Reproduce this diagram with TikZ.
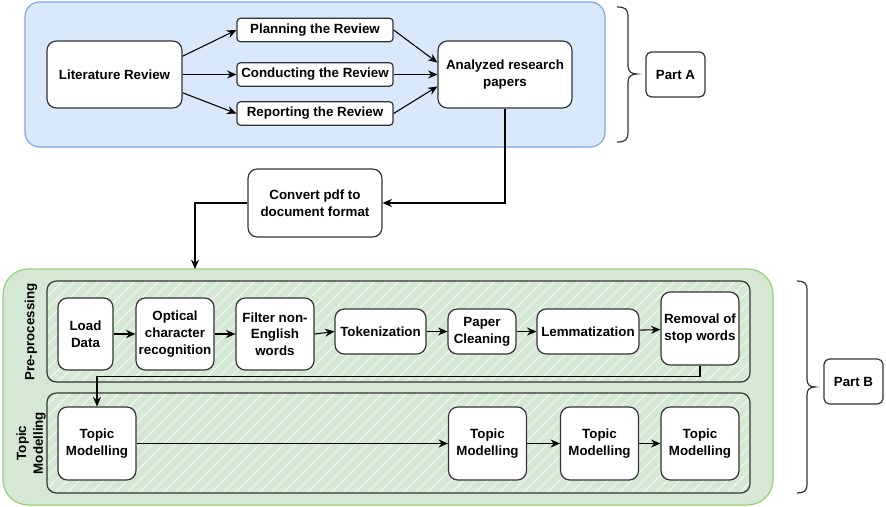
\documentclass[tikz,border=0pt]{standalone}
\usepackage{fontspec}
\setmainfont{Liberation Sans}
\usepackage{xcolor}
\usepackage{tikz}
\usetikzlibrary{arrows.meta, positioning, calc}
\definecolor{boxLine}{HTML}{333333}
\definecolor{blueFill}{HTML}{DAE8FC}
\definecolor{blueLine}{HTML}{7EA6E0}
\definecolor{greenFill}{HTML}{D5E8D4}
\definecolor{greenLine}{HTML}{97D077}
\tikzstyle{block} = [rectangle, rounded corners=7pt, draw=boxLine, line width=0.9pt, fill=white, align=center, inner sep=1pt, font=\fontsize{10}{12.5}\selectfont\bfseries]
\tikzstyle{slim} = [block, rounded corners=2.5pt, minimum width=117pt, minimum height=17.5pt]
\tikzstyle{lane} = [draw=boxLine, line width=0.9pt, rounded corners=7pt]
\tikzstyle{hatch} = [white, line width=0.7pt, opacity=0.75]
\tikzstyle{bracket} = [draw=boxLine, line width=0.9pt]
\tikzstyle{flow} = [line width=0.8pt, draw=black, ->, >={Stealth[length=7pt,width=6pt]}]

\begin{document}
\begin{tikzpicture}[x=0.75pt, y=-0.75pt]
        \useasboundingbox (0,0) rectangle (886,507);

        % Part A container
        \draw[draw=blueLine, fill=blueFill, line width=0.9pt, rounded corners=11pt] (25,2) rectangle (605,147);

        \node (lit) [block, minimum width=101.25pt, minimum height=50.25pt] at (114.5,74.5) {Literature Review};
        \node (plan) [slim] at (315,30) {Planning the Review};
        \node (cond) [slim] at (315,74.5) {Conducting the Review};
        \node (rep) [slim] at (315,113.5) {Reporting the Review};
        \node (papers) [block, minimum width=100.5pt, minimum height=50.25pt] at (505,74.5) {Analyzed research\\papers};
        \node (convert) [block, minimum width=100.5pt, minimum height=51pt] at (315,203) {Convert pdf to\\document format};

        \draw[flow] (lit.15) -- (plan.west);
        \draw[flow] (lit.east) -- (cond.west);
        \draw[flow] (lit.-15) -- (rep.west);
        \draw[flow] (plan.east) -- (papers.170);
        \draw[flow] (cond.east) -- (papers.west);
        \draw[flow] (rep.east) -- (papers.190);

        % Part A brace
        \draw[bracket] (617,7) .. controls (625,7) and (628,9) .. (628,17) -- (628,66)
            .. controls (628,72) and (632,74) .. (637,74) .. controls (632,74) and (628,76) .. (628,82)
            -- (628,132) .. controls (628,140) and (625,142) .. (617,142);
        \node (partA) [block, rounded corners=4pt, minimum width=44.25pt, minimum height=33.75pt] at (675.5,74.5) {Part A};

        % Part B container
        \draw[draw=greenLine, fill=greenFill, line width=0.9pt, rounded corners=19pt] (3,269) rectangle (773,505);
        \coordinate (entry) at (195,269);

        % Lanes
        \begin{scope}
            \clip[rounded corners=7pt] (47,281) rectangle (750,382) (47,393) rectangle (750,493);
            \foreach \h in {-240,-228,...,760}
                \draw[hatch] (\h,500) -- ++(232,-232);
        \end{scope}
        \draw[lane] (47,281) rectangle (750,382);
        \draw[lane] (47,393) rectangle (750,493);
        \node (preLabel) [rotate=90, font=\fontsize{10}{12.5}\selectfont\bfseries] at (31,332) {Pre-processing};
        \node (tmLabel) [rotate=90, align=center, font=\fontsize{10}{12.5}\selectfont\bfseries] at (31,443) {Topic\\Modelling};

        % Pre-processing steps
        \node (load) [block, minimum width=41.25pt, minimum height=54pt] at (85.5,334) {Load\\Data};
        \node (ocr) [block, minimum width=58.5pt, minimum height=54pt] at (175,334) {Optical\\character\\recognition};
        \node (filter) [block, minimum width=58.5pt, minimum height=54pt] at (275,334) {Filter non-\\English\\words};
        \node (token) [block, minimum width=68.25pt, minimum height=33.75pt] at (380.5,331.5) {Tokenization};
        \node (clean) [block, minimum width=51pt, minimum height=33.75pt] at (482,331.5) {Paper\\Cleaning};
        \node (lemma) [block, minimum width=76.5pt, minimum height=33.75pt] at (588,331.5) {Lemmatization};
        \node (stop) [block, minimum width=58.5pt, minimum height=54.75pt] at (700,328.5) {Removal of\\stop words};

        \draw[flow] (load) -- (ocr);
        \draw[flow] (ocr) -- (filter);
        \draw[flow] (filter.east) -- (token.west);
        \draw[flow] (token) -- (clean);
        \draw[flow] (clean) -- (lemma);
        \draw[flow] (lemma) -- (stop);

        % Topic modelling steps
        \node (tm1) [block, minimum width=58.5pt, minimum height=54.75pt] at (97,443.5) {Topic\\Modelling};
        \node (tm2) [block, minimum width=58.5pt, minimum height=54.75pt] at (487.5,443.5) {Topic\\Modelling};
        \node (tm3) [block, minimum width=58.5pt, minimum height=54.75pt] at (599.5,443.5) {Topic\\Modelling};
        \node (tm4) [block, minimum width=58.5pt, minimum height=54.75pt] at (700,443.5) {Topic\\Modelling};

        \draw[flow] (tm1) -- (tm2);
        \draw[flow] (tm2) -- (tm3);
        \draw[flow] (tm3) -- (tm4);
        \draw[flow] (stop.south) -- ++(0,11) -| (tm1.north);

        % Between the parts
        \draw[flow] (papers.south) |- (convert.east);
        \draw[flow] (convert.west) -| (entry);

        % Part B brace
        \draw[bracket] (797,281) .. controls (804,281) and (807,283) .. (807,290) -- (807,379)
            .. controls (807,385) and (810,387) .. (815,387) .. controls (810,387) and (807,389) .. (807,395)
            -- (807,484) .. controls (807,491) and (804,493) .. (797,493);
        \node (partB) [block, rounded corners=4pt, minimum width=44.25pt, minimum height=33.75pt] at (853.5,381.5) {Part B};

    \end{tikzpicture}
\end{document}
